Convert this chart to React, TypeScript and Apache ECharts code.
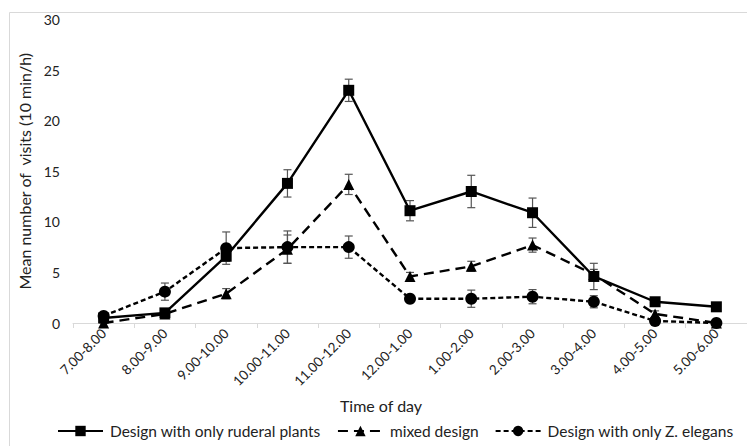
import React, { useEffect, useRef } from "react";
import * as echarts from "echarts";

const categories = [
  "7.00-8.00", "8.00-9.00", "9.00-10.00", "10.00-11.00", "11.00-12.00", "12.00-1.00",
  "1.00-2.00", "2.00-3.00", "3.00-4.00", "4.00-5.00", "5.00-6.00",
];
const ruderal = [0.5, 1.0, 6.6, 13.8, 23.0, 11.1, 13.0, 10.9, 4.6, 2.1, 1.6];
const ruderalErr = [0.3, 0.3, 0.5, 1.35, 1.1, 1.0, 1.6, 1.45, 1.3, 0.3, 0.3];
const mixed = [0, 0.9, 2.9, 7.3, 13.7, 4.6, 5.6, 7.7, 4.8, 0.9, 0];
const mixedErr = [0, 0.3, 0.5, 1.4, 1.0, 0.4, 0.5, 0.7, 0.5, 0.3, 0];
const zelegans = [0.7, 3.1, 7.4, 7.5, 7.5, 2.4, 2.4, 2.6, 2.1, 0.2, 0];
const zelegansErr = [0.3, 0.85, 1.6, 1.6, 1.1, 0.3, 0.85, 0.7, 0.6, 0.2, 0];
const yTicks = { min: 0, max: 30, interval: 5 };

const names = [
  "Design with only ruderal plants",
  "mixed design",
  "Design with only Z. elegans",
];

const FONT = "Lato, 'Open Sans', sans-serif";

function errData(vals: number[], errs: number[]) {
  return vals.map((v, i) => [i, v - errs[i], v + errs[i]]);
}

function errSeries(vals: number[], errs: number[], id: string) {
  return {
    type: "custom",
    id,
    z: 1,
    silent: true,
    data: errData(vals, errs),
    renderItem: (params: any, api: any) => {
      const x = api.value(0);
      const lo = api.coord([x, api.value(1)]);
      const hi = api.coord([x, api.value(2)]);
      const w = 4;
      const style = { stroke: "#555", lineWidth: 1.2 };
      return {
        type: "group",
        children: [
          { type: "line", shape: { x1: lo[0], y1: lo[1], x2: hi[0], y2: hi[1] }, style },
          { type: "line", shape: { x1: hi[0] - w, y1: hi[1], x2: hi[0] + w, y2: hi[1] }, style },
          { type: "line", shape: { x1: lo[0] - w, y1: lo[1], x2: lo[0] + w, y2: lo[1] }, style },
        ],
      };
    },
  };
}

export default function App() {
  const ref = useRef<HTMLDivElement>(null);
  useEffect(() => {
    const chart = echarts.init(ref.current!, null, { renderer: "svg" });
    chart.setOption({
      animation: false,
      backgroundColor: "#fff",
      textStyle: { fontFamily: FONT },
      grid: { left: 73, right: -12, top: 19.5, bottom: 123 },
      graphic: [
        {
          type: "rect",
          shape: { x: 9.5, y: 12.5, width: 760, height: 440 },
          style: { fill: "none", stroke: "#d9d9d9", lineWidth: 1 },
          silent: true,
        },
        {
          type: "text",
          x: 381,
          y: 405,
          style: {
            text: "Time of day",
            font: `16px ${FONT}`,
            fill: "#222",
            align: "center",
            verticalAlign: "middle",
          },
        },
      ],
      legend: {
        data: names,
        left: 57,
        top: 423,
        width: 700,
        padding: 0,
        itemWidth: 45,
        itemHeight: 13,
        itemGap: 16,
        textStyle: { fontSize: 15.5, color: "#222", fontFamily: FONT, padding: [0, 0, 0, 2] },
      },
      xAxis: {
        type: "category",
        data: categories,
        boundaryGap: true,
        axisLine: { lineStyle: { color: "#d9d9d9", width: 1 } },
        axisTick: { show: true, length: 5, lineStyle: { color: "#d9d9d9" } },
        axisLabel: { rotate: 45, fontSize: 13.5, color: "#222", margin: 8, fontFamily: FONT },
        splitLine: { show: false },
      },
      yAxis: {
        type: "value",
        min: yTicks.min,
        max: yTicks.max,
        interval: yTicks.interval,
        name: "Mean number of  visits (10 min/h)",
        nameLocation: "middle",
        nameGap: 22,
        nameTextStyle: { fontSize: 16, color: "#222", fontFamily: FONT },
        axisLine: { show: false },
        axisTick: { show: false },
        splitLine: { show: false },
        axisLabel: { fontSize: 14, color: "#222", margin: 13, fontFamily: FONT },
      },
      series: [
        errSeries(zelegans, zelegansErr, "zerr"),
        errSeries(mixed, mixedErr, "merr"),
        errSeries(ruderal, ruderalErr, "rerr"),
        {
          name: names[2],
          type: "line",
          data: zelegans,
          z: 2,
          symbol: "circle",
          symbolSize: 12,
          itemStyle: { color: "#000" },
          lineStyle: { color: "#000", width: 2.4, type: [5, 3] },
        },
        {
          name: names[1],
          type: "line",
          data: mixed,
          z: 3,
          symbol: "triangle",
          symbolSize: 11,
          itemStyle: { color: "#000" },
          lineStyle: { color: "#000", width: 2.4, type: [10, 6] },
        },
        {
          name: names[0],
          type: "line",
          data: ruderal,
          z: 4,
          symbol: "rect",
          symbolSize: 11,
          itemStyle: { color: "#000" },
          lineStyle: { color: "#000", width: 2.4, type: "solid" },
        },
      ],
    });
    return () => chart.dispose();
  }, []);
  return (
    <div
      ref={ref}
      style={{ position: "absolute", left: 0, top: 0, width: 747, height: 446 }}
    />
  );
}
